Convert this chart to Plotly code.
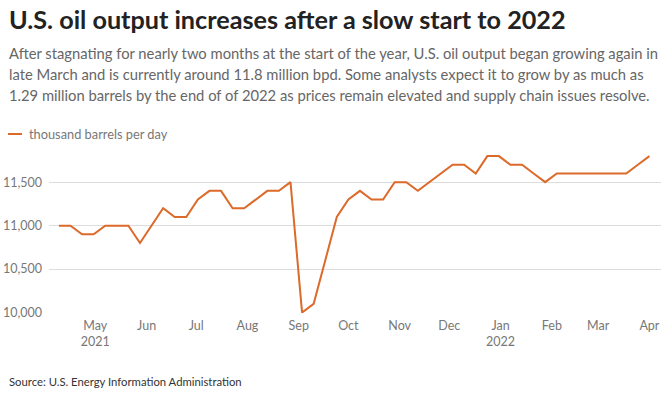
import plotly.graph_objects as go
import pandas as pd

# Weekly U.S. crude oil output (thousand barrels per day)
start_week = "2021-04-09"
output_kbpd = [
    11000, 11000, 10900, 10900, 11000, 11000, 11000, 10800, 11000, 11200,
    11100, 11100, 11300, 11400, 11400, 11200, 11200, 11300, 11400, 11400,
    11500, 10000, 10100, 10600, 11100, 11300, 11400, 11300, 11300, 11500,
    11500, 11400, 11500, 11600, 11700, 11700, 11600, 11800, 11800, 11700,
    11700, 11600, 11500, 11600, 11600, 11600, 11600, 11600, 11600, 11600,
    11700, 11800,
]
weeks = pd.date_range(start_week, periods=len(output_kbpd), freq="7D")

tick_dates = ["2021-05-01", "2021-06-01", "2021-07-01", "2021-08-01", "2021-09-01",
              "2021-10-01", "2021-11-01", "2021-12-01", "2022-01-01", "2022-02-01",
              "2022-03-01", "2022-04-01"]
tick_labels = ["May<br>2021", "Jun", "Jul", "Aug", "Sep", "Oct", "Nov", "Dec",
               "Jan<br>2022", "Feb", "Mar", "Apr"]
y_ticks = [10000, 10500, 11000, 11500]
y_tick_labels = ["10,000", "10,500", "11,000", "11,500"]

title = "U.S. oil output increases after a slow start to 2022"
subtitle_lines = [
    "After stagnating for nearly two months at the start of the year, U.S. oil output began growing again in",
    "late March and is currently around 11.8 million bpd. Some analysts expect it to grow by as much as",
    "1.29 million barrels by the end of of 2022 as prices remain elevated and supply chain issues resolve.",
]
series_name = "thousand barrels per day"
source = "Source: U.S. Energy Information Administration"

LINE = "#dc6a2a"
FONT = "Lato"

fig = go.Figure()
fig.add_trace(go.Scatter(
    x=weeks, y=output_kbpd, mode="lines", name=series_name,
    line=dict(color=LINE, width=2), showlegend=False,
))

W, H = 671, 393
ml, mr, mt, mb = 49, 10, 150, 80

def px_x(p):
    return (p - ml) / (W - ml - mr)

def px_y(p):
    return 1 - (p - mt) / (H - mt - mb)

annotations = [
    dict(text=f"<b>{title}</b>", x=px_x(7), y=px_y(19), xref="paper", yref="paper",
         xanchor="left", yanchor="middle", showarrow=False,
         font=dict(family=FONT, size=25.2, color="#222222")),
]
for i, line in enumerate(subtitle_lines):
    annotations.append(dict(text=line, x=px_x(7), y=px_y(53 + 21 * i), xref="paper", yref="paper",
                            xanchor="left", yanchor="middle", showarrow=False,
                            font=dict(family=FONT, size=14.75, color="#666666")))
annotations.append(dict(text=series_name, x=px_x(27), y=px_y(134), xref="paper", yref="paper",
                        xanchor="left", yanchor="middle", showarrow=False,
                        font=dict(family=FONT, size=12.8, color="#777777")))
annotations.append(dict(text=source, x=px_x(7), y=px_y(381), xref="paper", yref="paper",
                        xanchor="left", yanchor="middle", showarrow=False,
                        font=dict(family=FONT, size=11.3, color="#333333")))

shapes = [dict(type="line", xref="paper", yref="paper", x0=px_x(8), x1=px_x(22),
               y0=px_y(134), y1=px_y(134), line=dict(color=LINE, width=2))]

fig.update_layout(
    width=W, height=H,
    margin=dict(l=ml, r=mr, t=mt, b=mb, autoexpand=False),
    paper_bgcolor="white", plot_bgcolor="white",
    font=dict(family=FONT, color="#666666"),
    annotations=annotations, shapes=shapes,
    xaxis=dict(
        range=["2021-04-03", "2022-04-08"],
        tickvals=tick_dates, ticktext=tick_labels,
        showgrid=False, zeroline=False, showline=False, ticks="",
        automargin=False, ticklabelstandoff=3,
        tickfont=dict(family=FONT, size=12.5, color="#777777"),
    ),
    yaxis=dict(
        range=[9995, 11870],
        tickvals=y_ticks, ticktext=y_tick_labels,
        showgrid=True, gridcolor="#dddddd", gridwidth=1,
        zeroline=False, showline=False, ticks="",
        automargin=False,
        ticklabelstandoff=6,
        tickfont=dict(family=FONT, size=12.5, color="#777777"),
    ),
)

fig.write_html("out.html", config={"displayModeBar": False},
               post_script="document.body.style.margin='0';")
